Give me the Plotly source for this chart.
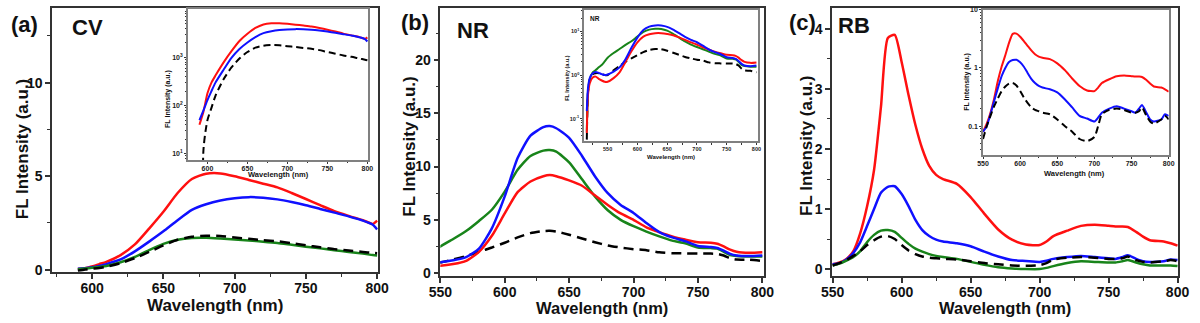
import plotly.graph_objects as go

# ---------------- data ----------------
# Panel (a) CV
wl_a = [590, 595, 600, 605, 610, 620, 630, 640, 650, 660, 670, 680, 690, 700,
        710, 720, 730, 740, 750, 760, 770, 780, 790, 797, 800]
cv_red = [0.04, 0.075, 0.18, 0.3, 0.42, 0.78, 1.35, 2.2, 3.1, 4.1, 4.85, 5.13, 5.15, 5.0,
          4.8, 4.6, 4.4, 4.1, 3.78, 3.45, 3.13, 2.88, 2.65, 2.45, 2.62]
cv_blue = [0.05, 0.08, 0.13, 0.2, 0.3, 0.55, 0.98, 1.5, 2.05, 2.65, 3.2, 3.5, 3.7, 3.82,
           3.88, 3.85, 3.76, 3.62, 3.45, 3.25, 3.05, 2.85, 2.62, 2.4, 2.15]
cv_green = [0.02, 0.06, 0.1, 0.15, 0.2, 0.4, 0.68, 1.05, 1.38, 1.6, 1.7, 1.71, 1.67, 1.62,
            1.56, 1.5, 1.43, 1.33, 1.23, 1.14, 1.04, 0.95, 0.86, 0.78, 0.76]
cv_black = [-0.05, 0.012, 0.05, 0.09, 0.16, 0.35, 0.62, 0.95, 1.3, 1.6, 1.76, 1.82, 1.8, 1.72,
            1.65, 1.58, 1.52, 1.42, 1.3, 1.2, 1.1, 1.03, 0.95, 0.9, 0.88]
CV_INSET_SCALE = 1000  # inset (a) is plotted in counts (x1000)

# Panel (b) NR
wl_b = [515, 517, 520, 525, 530, 535, 540, 545, 550, 560, 570, 580, 590, 600, 610, 620,
        630, 635, 640, 650, 660, 670, 680, 690, 700, 710, 720, 730, 740, 750, 760, 765,
        770, 775, 780, 790, 800]
nr_red = [0.047, 0.35, 0.65, 0.88, 0.92, 0.82, 0.75, 0.7, 0.7, 0.85, 1.15, 2.0, 3.5, 5.6, 7.6, 8.6,
          9.1, 9.2, 9.1, 8.7, 8.2, 7.3, 6.4, 5.6, 5.0, 4.3, 3.85, 3.45, 3.15, 2.9, 2.85, 2.75,
          2.5, 2.2, 2.0, 1.9, 1.95]
nr_blue = [0.15, 0.5, 0.85, 1.1, 1.18, 1.12, 1.05, 1.0, 1.03, 1.2, 1.5, 2.3, 4.2, 7.2, 10.8, 12.9,
           13.7, 13.8, 13.6, 12.7, 11.0, 9.1, 7.5, 6.4, 5.65, 4.7, 3.85, 3.35, 3.0, 2.55, 2.45, 2.35,
           2.1, 1.8, 1.65, 1.6, 1.65]
nr_green = [0.05, 0.42, 0.8, 1.15, 1.3, 1.5, 1.7, 2.05, 2.5, 3.2, 3.95, 4.9, 5.95, 7.65, 9.7, 11.0,
            11.5, 11.55, 11.4, 10.4, 8.8, 7.2, 5.9, 5.0, 4.4, 3.9, 3.45, 3.05, 2.8, 2.4, 2.35, 2.3,
            2.0, 1.7, 1.6, 1.55, 1.55]
nr_black = [0.033, 0.4, 0.8, 1.05, 1.1, 1.1, 1.05, 1.0, 1.0, 1.28, 1.6, 2.0, 2.4, 2.85, 3.35, 3.75,
            3.95, 3.97, 3.9, 3.6, 3.25, 2.9, 2.6, 2.4, 2.25, 2.15, 1.95, 1.87, 1.85, 1.83, 1.83, 1.8,
            1.65, 1.4, 1.28, 1.25, 1.15]

# Panel (c) RB
wl_c = [550, 555, 560, 565, 570, 575, 580, 585, 590, 595, 600, 605, 610, 615, 620, 625, 630,
        640, 650, 660, 670, 680, 690, 700, 705, 710, 720, 730, 740, 750, 755, 760, 764, 770,
        775, 780, 790, 795, 800]
rb_red = [0.08, 0.11, 0.17, 0.3, 0.6, 1.05, 1.65, 2.7, 3.85, 3.9, 3.45, 2.9, 2.4, 2.0, 1.72, 1.57, 1.5,
          1.42, 1.2, 0.92, 0.66, 0.49, 0.41, 0.4, 0.46, 0.55, 0.64, 0.72, 0.74, 0.72, 0.71, 0.71, 0.7, 0.62,
          0.54, 0.48, 0.46, 0.43, 0.39]
rb_blue = [0.08, 0.1, 0.16, 0.27, 0.45, 0.72, 1.0, 1.27, 1.37, 1.38, 1.25, 1.05, 0.82, 0.65, 0.55, 0.49, 0.46,
           0.43, 0.38, 0.29, 0.21, 0.15, 0.135, 0.12, 0.14, 0.17, 0.2, 0.22, 0.2, 0.18, 0.17, 0.2, 0.23, 0.17,
           0.13, 0.12, 0.13, 0.16, 0.15]
rb_green = [0.06, 0.09, 0.14, 0.2, 0.3, 0.45, 0.57, 0.64, 0.65, 0.62, 0.52, 0.42, 0.34, 0.29, 0.25, 0.22, 0.2,
            0.17, 0.12, 0.07, 0.03, 0.01, 0.0, 0.0, 0.02, 0.05, 0.1, 0.13, 0.12, 0.11, 0.11, 0.13, 0.15, 0.11,
            0.08, 0.06, 0.06, 0.06, 0.05]
rb_black = [0.06, 0.1, 0.15, 0.22, 0.3, 0.4, 0.48, 0.54, 0.55, 0.5, 0.4, 0.31, 0.25, 0.21, 0.19, 0.18, 0.17,
            0.16, 0.13, 0.1, 0.08, 0.06, 0.055, 0.065, 0.1, 0.16, 0.19, 0.2, 0.19, 0.17, 0.17, 0.18, 0.21, 0.15,
            0.12, 0.11, 0.13, 0.15, 0.13]

panel_labels = ["(a)", "(b)", "(c)"]
dye_names = ["CV", "NR", "RB"]
x_title = "Wavelength (nm)"
y_title = "FL Intensity (a.u.)"

# ---------------- style ----------------
W, H = 1200, 323
FONT = "Liberation Sans, Arial, sans-serif"
RED, BLUE, GREEN, BLACK = "#ff1010", "#1010ff", "#18841a", "#000000"
FRAME = "#333333"
INSET_FRAME = "#808080"


def px(x):
    return x / W


def py(y):
    return 1 - y / H


fig = go.Figure()


def add_lines(x, series, xa, ya, width, scale=1.0):
    for vals, color, dash in series:
        fig.add_trace(go.Scatter(
            x=x, y=[v * scale for v in vals], xaxis=xa, yaxis=ya, mode="lines",
            line=dict(color=color, width=width, dash=dash, shape="spline", smoothing=0.6),
            showlegend=False, hoverinfo="skip", cliponaxis=True))


DASH_MAIN = "10px,6px"
DASH_IN = "7px,4px"

# main panels
add_lines(wl_a, [(cv_red, RED, "solid"), (cv_blue, BLUE, "solid"), (cv_green, GREEN, "solid"),
                 (cv_black, BLACK, DASH_MAIN)], "x", "y", 2.5)
add_lines(wl_b, [(nr_black, BLACK, DASH_MAIN), (nr_green, GREEN, "solid"), (nr_red, RED, "solid"),
                 (nr_blue, BLUE, "solid")], "x2", "y2", 2.5)
add_lines(wl_c, [(rb_red, RED, "solid"), (rb_blue, BLUE, "solid"), (rb_green, GREEN, "solid"),
                 (rb_black, BLACK, DASH_MAIN)], "x3", "y3", 2.5)

# insets
add_lines(wl_a, [(cv_red, RED, "solid"), (cv_blue, BLUE, "solid"), (cv_black, BLACK, DASH_IN)],
          "x4", "y4", 2.0, scale=CV_INSET_SCALE)
add_lines(wl_b, [(nr_black, BLACK, DASH_IN), (nr_green, GREEN, "solid"), (nr_red, RED, "solid"),
                 (nr_blue, BLUE, "solid")], "x5", "y5", 2.0)
add_lines(wl_c, [(rb_red, RED, "solid"), (rb_blue, BLUE, "solid"), (rb_black, BLACK, DASH_IN)],
          "x6", "y6", 2.0)


def main_axis(dom, rng, dtick, minor, anchor, tick0=0, standoff=0):
    return dict(domain=dom, range=rng, anchor=anchor, tick0=tick0, dtick=dtick,
                ticks="outside", ticklen=5, tickwidth=1.5, tickcolor=FRAME,
                ticklabelstandoff=standoff,
                showline=True, linecolor=FRAME, linewidth=1.5, mirror=True,
                showgrid=False, zeroline=False,
                tickfont=dict(family=FONT, size=14, color="#111", weight="bold"),
                minor=dict(ticks="outside", ticklen=3, tickwidth=1.2, tickcolor=FRAME,
                           dtick=minor, tick0=tick0, showgrid=False))


def inset_x(dom, rng, anchor, size):
    return dict(domain=dom, range=rng, anchor=anchor, tick0=550, dtick=50,
                ticks="outside", ticklen=2, tickwidth=1, tickcolor="#333",
                ticklabelstandoff=-1,
                showline=True, linecolor=INSET_FRAME, linewidth=1.5, mirror=True,
                showgrid=False, zeroline=False,
                tickfont=dict(family=FONT, size=size, color="#222", weight="bold"),
                minor=dict(ticks="outside", ticklen=1.5, tickcolor="#333", dtick=25, tick0=550))


def inset_y(dom, rng, anchor, size, vals, texts):
    minor_vals = [k * 10 ** e for e in range(-3, 5) for k in range(2, 10)]
    return dict(domain=dom, range=rng, anchor=anchor, type="log",
                tickvals=vals, ticktext=texts,
                ticks="outside", ticklen=2, tickwidth=1, tickcolor="#333",
                showline=True, linecolor=INSET_FRAME, linewidth=1.5, mirror=True,
                showgrid=False, zeroline=False,
                tickfont=dict(family=FONT, size=size, color="#222", weight="bold"),
                minor=dict(ticks="outside", ticklen=1.5, tickcolor="#333", tickvals=minor_vals))


layout = dict(
    width=W, height=H, autosize=False,
    margin=dict(l=0, r=0, t=0, b=0),
    paper_bgcolor="white", plot_bgcolor="white", showlegend=False,
    xaxis=main_axis([px(41), px(373)], [572, 800.5], 50, 25, "y", tick0=600, standoff=-2),
    yaxis=main_axis([py(276.5), py(4)], [-0.12, 14.0], 5, 2.5, "x"),
    xaxis2=main_axis([px(436.7), px(766.7)], [550, 801.3], 50, 25, "y2", tick0=550, standoff=-3),
    yaxis2=main_axis([py(281), py(4)], [-0.3, 24.9], 5, 2.5, "x2"),
    xaxis3=main_axis([px(836), px(1189)], [549.5, 800.5], 50, 25, "y3", tick0=550, standoff=-3),
    yaxis3=main_axis([py(281), py(4)], [-0.12, 4.35], 1, 0.5, "x3"),
    xaxis4=inset_x([px(179.3), px(363.3)], [575.5, 801.2], "y4", 7),
    yaxis4=inset_y([py(161), py(5)], [0.87, 4.01], "x4", 7,
                   [10, 100, 1000], ["10<sup>1</sup>", "10<sup>2</sup>", "10<sup>3</sup>"]),
    xaxis5=inset_x([px(583.3), px(760.7)], [510.5, 802.8], "y5", 5.5),
    yaxis5=inset_y([py(141.7), py(6.7)], [-1.52, 1.48], "x5", 5.5,
                   [0.1, 1, 10], ["10<sup>-1</sup>", "10<sup>0</sup>", "10<sup>1</sup>"]),
    xaxis6=inset_x([px(990), px(1179.3)], [550, 800], "y6", 7),
    yaxis6=inset_y([py(156), py(6)], [-1.5, 1.0], "x6", 7,
                   [0.1, 1, 10], ["0.1", "1", "10"]),
)
fig.update_layout(**layout)


def ann(text, x, y, size, angle=0):
    fig.add_annotation(text=text, x=px(x), y=py(y), xref="paper", yref="paper",
                       showarrow=False, textangle=angle, xanchor="center", yanchor="middle",
                       font=dict(family=FONT, size=size, color="#111", weight="bold"))


# panel labels and dye names
for lab, name, (lx, ly), (nx, ny) in zip(panel_labels, dye_names,
                                         [(13, 21), (411, 19), (806, 19)],
                                         [(77, 24), (470, 27), (858, 22)]):
    ann(lab, lx, ly, 22)
    ann(name, nx, ny, 22)

# main axis titles
for cx, ty, fs, yx, yy in [(207, 311, 17, 11, 150), (601.7, 313.5, 16.5, 405, 147),
                           (1012, 313.5, 16.5, 810, 146)]:
    ann(x_title, cx, ty, fs)
    ann(y_title, yx, yy, 17, angle=-90)

# inset axis titles
ann(x_title, 272, 175.5, 7.5)
ann(y_title, 159, 98, 7, angle=-90)
ann(x_title, 672, 157.5, 6)
ann(y_title, 565, 76, 5.5, angle=-90)
ann(x_title, 1083, 175, 7.5)
ann(y_title, 973, 80, 7, angle=-90)
ann(dye_names[1], 594, 14.5, 6.5)

fig.write_html("out.html", post_script="document.body.style.margin='0';",
               config={"displayModeBar": False})
